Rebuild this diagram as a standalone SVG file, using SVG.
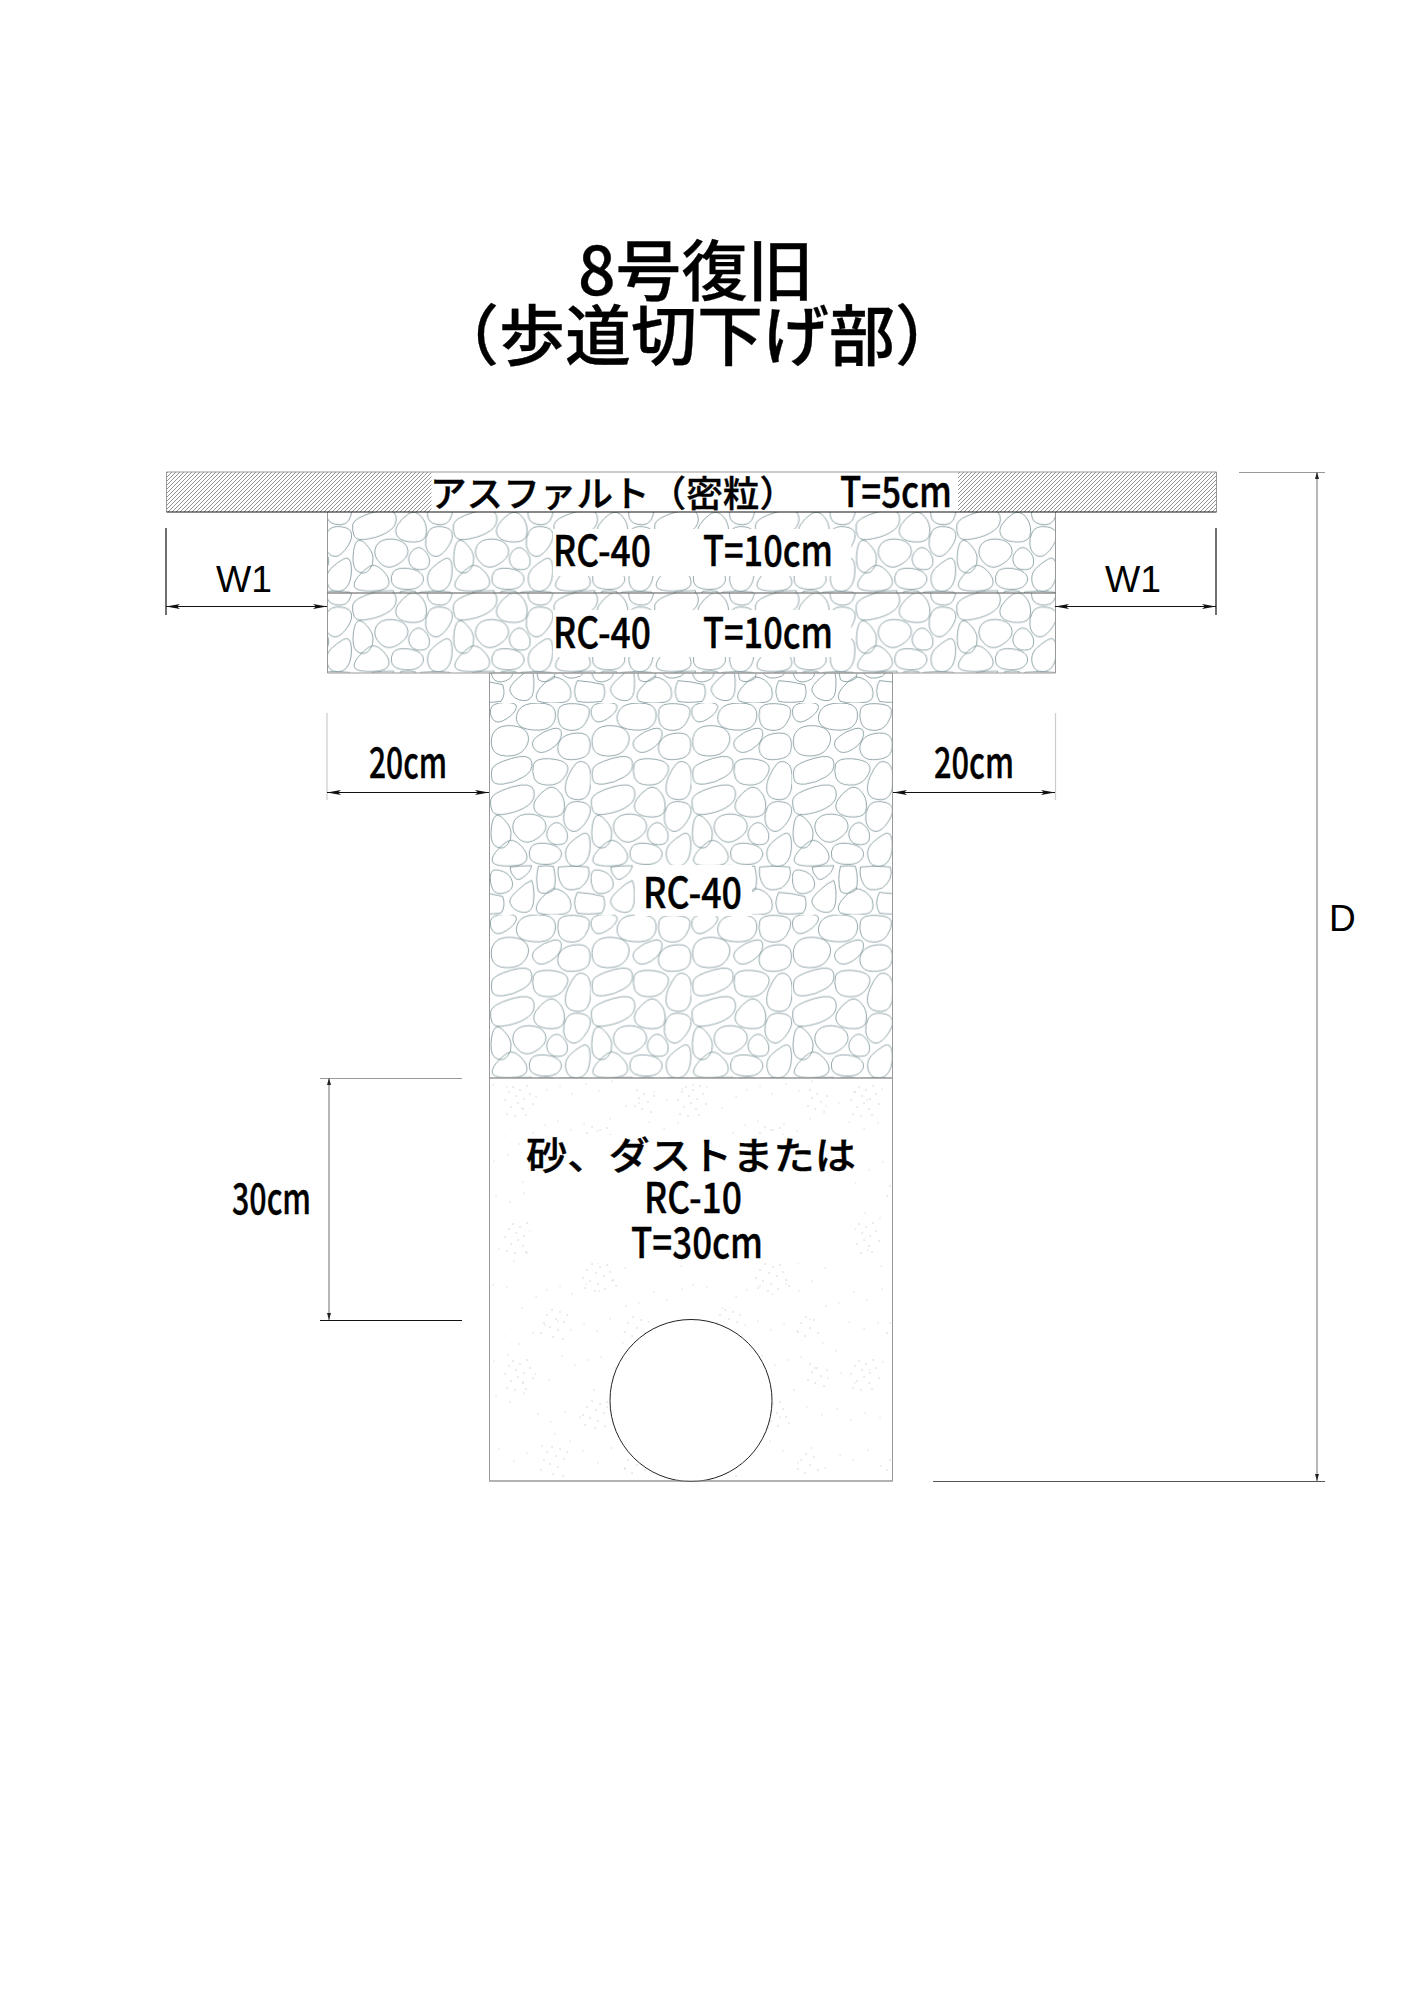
<svg xmlns="http://www.w3.org/2000/svg" width="1414" height="2000" viewBox="0 0 1414 2000">
<style>
.t{font-family:"Noto Sans CJK JP","Liberation Sans",sans-serif;font-weight:500;fill:#000;stroke:#000;stroke-width:.35}
.l{font-family:"Liberation Sans",sans-serif;font-size:37px;fill:#000}
.p{fill:none;stroke:#5c7a80;stroke-width:2}
.e{stroke:#555;stroke-width:1;fill:none}
.g{stroke:#999;stroke-width:1;fill:none}
.k{stroke:#111;stroke-width:1.2;fill:none}
.h{stroke:#111;stroke-width:1.2;fill:none;marker-start:url(#ah);marker-end:url(#ah)}
.v{stroke:#888;stroke-width:1.2;fill:none;marker-start:url(#as);marker-end:url(#as)}
</style>
<defs>
<marker id="ah" markerUnits="userSpaceOnUse" markerWidth="14" markerHeight="6" viewBox="0 0 14 6" refX="14" refY="3" orient="auto-start-reverse"><path d="M14 3L0 .5 3 3 0 5.5Z" fill="#111"/></marker>
<marker id="as" markerUnits="userSpaceOnUse" markerWidth="7" markerHeight="4" viewBox="0 0 7 4" refX="7" refY="2" orient="auto-start-reverse"><path d="M7 2L0 0V4Z" fill="#222"/></marker>
<pattern id="hatch" patternUnits="userSpaceOnUse" width="4" height="4"><path d="M-1 1L1-1M0 4L4 0M3 5L5 3" stroke="#666" stroke-width=".7"/></pattern>
<g id="pebbles">
<path class="p" d="M1.5 20Q4 0 43-1.5Q82-3 79 13.5Q76 30 50 47Q24 64 11.5 52Q-1 40 1.5 20Z"/>
<path class="p" d="M87 20Q100 0 145 0Q190 0 195 25Q200 50 185 67Q170 84 130 81Q90 78 82 59Q74 40 87 20Z"/>
<path class="p" d="M205 20Q210 0 253 2Q296 4 298 22Q300 40 285 62Q270 84 242 82Q215 80 207 60Q200 40 205 20Z"/>
<path class="p" d="M15 83Q30 66 65 68Q100 70 111 90Q122 110 106 135Q90 160 50 159Q10 158 5 129Q0 100 15 83Z"/>
<path class="p" d="M188 77Q216 70 214 95Q212 120 181 139Q150 158 134 139Q118 120 139 102Q160 84 188 77Z"/>
<path class="p" d="M211 111Q225 92 261 90Q298 88 300 119Q302 150 286 160Q270 170 242 170Q215 170 206 150Q198 130 211 111Z"/>
<path class="p" d="M6 198Q10 182 65 166Q120 150 125 177Q130 205 100 222Q70 240 40 243Q10 246 6 230Q2 215 6 198Z"/>
<path class="p" d="M130 185Q135 165 178 167Q220 170 230 185Q240 200 222 224Q205 248 172 246Q140 245 132 225Q125 205 130 185Z"/>
<path class="p" d="M257 182Q270 170 287 180Q305 190 302 240Q300 290 267 290Q235 290 228 270Q222 250 233 222Q245 195 257 182Z"/>
<path class="p" d="M2 290Q5 270 65 252Q125 235 131 262Q138 290 114 307Q90 325 52 332Q15 340 7 325Q0 310 2 290Z"/>
<path class="p" d="M170 257Q190 245 207 265Q225 285 223 313Q222 342 186 342Q150 342 137 326Q125 310 137 290Q150 270 170 257Z"/>
<path class="p" d="M229 311Q240 292 270 296Q300 300 301 320Q302 340 281 366Q260 392 242 383Q225 375 221 352Q218 330 229 311Z"/>
<path class="p" d="M15 340Q25 330 43 350Q62 370 63 390Q65 410 52 425Q40 440 21 432Q2 425 3 388Q5 350 15 340Z"/>
<path class="p" d="M73 353Q85 332 120 333Q155 335 165 357Q175 380 150 400Q125 420 107 417Q90 415 76 395Q62 375 73 353Z"/>
<path class="p" d="M182 367Q200 350 217 367Q235 385 232 405Q230 425 205 425Q180 425 172 405Q165 385 182 367Z"/>
<path class="p" d="M276 393Q298 382 300 416Q302 450 291 470Q280 490 257 490Q235 490 228 465Q222 440 238 422Q255 405 276 393Z"/>
<path class="p" d="M17 447Q35 425 52 415Q70 405 92 427Q115 450 110 469Q105 488 62 489Q20 490 10 480Q0 470 17 447Z"/>
<path class="p" d="M124 431Q135 418 167 421Q200 425 210 440Q220 455 207 470Q195 486 160 484Q125 482 119 463Q114 445 124 431Z"/>
<path class="p" d="M10 502Q20 498 41 506Q62 515 67 537Q72 560 46 569Q20 578 8 559Q-1 540 1 522Q2 505 10 502Z"/>
<path class="p" d="M60 492Q90 488 125 488Q120 510 100 522Q85 535 75 525Q60 510 60 492Z"/>
<path class="p" d="M145 490Q170 486 190 490Q200 530 192 560Q165 580 145 565Q135 530 145 490Z"/>
<path class="p" d="M205 492Q250 486 295 492Q305 530 270 555Q230 570 215 545Q200 520 205 492Z"/>
<path class="p" d="M125 532Q135 560 130 600Q125 630 100 628Q70 625 60 600Q55 585 85 560Q105 540 125 532Z"/>
<path class="p" d="M190 556Q225 560 240 590Q250 625 225 632Q180 640 145 630Q130 615 150 590Q170 565 190 556Z"/>
<path class="p" d="M262 568Q300 570 340 580Q350 610 335 630Q290 636 262 630Q245 600 262 568Z"/>
<path class="p" transform="translate(-302 0)" d="M262 568Q300 570 340 580Q350 610 335 630Q290 636 262 630Q245 600 262 568Z"/>
</g>
<pattern id="pebA" patternUnits="userSpaceOnUse" x="490" y="703" width="100.7" height="211.7" viewBox="0 0 302 635"><use href="#pebbles"/></pattern>
<pattern id="pebB" patternUnits="userSpaceOnUse" x="352" y="428" width="100.7" height="211.7" viewBox="0 0 302 635"><use href="#pebbles"/></pattern>
<pattern id="pebC" patternUnits="userSpaceOnUse" x="352" y="508.5" width="100.7" height="211.7" viewBox="0 0 302 635"><use href="#pebbles"/></pattern>
<pattern id="sand" patternUnits="userSpaceOnUse" x="489" y="1078" width="200" height="200"><path fill="none" stroke="#c4c1b3" stroke-width="1" stroke-linecap="round" d="M4 7h.1M18 9h.1M33 30h.1M47 19h.1M58 12h.1M71 8h.1M83 16h.1M97 6h.1M110 13h.1M123 3h.1M137 28h.1M150 25h.1M165 14h.1M178 22h.1M193 11h.1M15 58h.1M30 66h.1M44 55h.1M56 47h.1M69 43h.1M82 52h.1M95 46h.1M108 53h.1M121 41h.1M134 65h.1M147 73h.1M160 44h.1M175 51h.1M189 45h.1M5 83h.1M19 77h.1M34 104h.1M46 96h.1M60 102h.1M73 78h.1M86 87h.1M99 82h.1M112 79h.1M126 90h.1M139 100h.1M152 95h.1M166 105h.1M180 92h.1M194 84h.1M7 118h.1M21 124h.1M35 115h.1M49 136h.1M62 144h.1M76 134h.1M91 139h.1M105 112h.1M118 129h.1M133 137h.1M148 131h.1M162 142h.1M176 135h.1M191 140h.1M10 171h.1M25 183h.1M38 175h.1M53 168h.1M66 156h.1M81 163h.1M94 173h.1M109 185h.1M122 170h.1M136 190h.1M151 177h.1M164 182h.1M179 172h.1M192 188h.1"/></pattern>
<pattern id="sand2" patternUnits="userSpaceOnUse" x="489" y="1078" width="173" height="137"><path fill="none" stroke="#a9a798" stroke-width="1" stroke-linecap="round" d="M20 14h.1M24 9h.1M27 18h.1M31 12h.1M35 21h.1M16 22h.1M38 8h.1M29 25h.1M22 29h.1M41 16h.1M34 31h.1M44 26h.1M18 36h.1M26 38h.1M37 37h.1M98 55h.1M103 49h.1M107 58h.1M111 52h.1M115 61h.1M94 63h.1M101 66h.1M109 69h.1M118 50h.1M121 57h.1M124 65h.1M96 73h.1M106 76h.1M116 74h.1M127 71h.1M150 20h.1M155 16h.1M159 24h.1M146 28h.1M153 31h.1M162 34h.1M148 12h.1M165 18h.1M58 100h.1M63 95h.1M67 104h.1M71 97h.1M55 108h.1M61 112h.1M69 115h.1M75 107h.1M78 100h.1M52 118h.1M64 122h.1M74 124h.1M139 108h.1M144 102h.1M148 113h.1M152 105h.1M136 117h.1M143 121h.1M156 118h.1"/></pattern>
</defs>
<rect width="1414" height="2000" fill="#fff"/>

<g id="title">
<text class="t" font-size="66" x="578" y="295">8号復旧</text>
<text class="t" font-size="66" x="433" y="360">（歩道切下げ部）</text>
</g>

<g id="sand-layer">
<rect x="489.500" y="1078" width="403" height="403" fill="url(#sand)"/>
<rect x="489.500" y="1078" width="403" height="403" fill="url(#sand2)"/>
<rect x="489.500" y="1078" width="403" height="403" class="g"/>
<rect x="530" y="1135" width="325" height="128" fill="#fff"/>
<circle cx="691" cy="1400.500" r="81" fill="#fff" stroke="#222" stroke-width="1"/>
<path d="M489.500 1481H892.500" class="g"/>
<text class="t" font-size="38" x="526" y="1169" textLength="330" lengthAdjust="spacingAndGlyphs">砂、ダストまたは</text>
<text class="t" font-size="42" x="644" y="1213" textLength="98" lengthAdjust="spacingAndGlyphs">RC-10</text>
<text class="t" font-size="42" x="631" y="1258" textLength="132" lengthAdjust="spacingAndGlyphs">T=30cm</text>
</g>

<g id="rc40-column">
<rect x="489.500" y="673" width="403" height="405" fill="url(#pebA)"/>
<rect x="489.500" y="673" width="403" height="405" class="g"/>
<rect x="635" y="865" width="117" height="51" fill="#fff"/>
<text class="t" font-size="42" x="643" y="908" textLength="99" lengthAdjust="spacingAndGlyphs">RC-40</text>
</g>

<g id="rc40-lower">
<rect x="327.500" y="593" width="728" height="80" fill="url(#pebC)"/>
<path d="M327.500 593V673H1055.500V593" class="g"/>
<rect x="553" y="610" width="298" height="47" fill="#fff"/>
<text class="t" font-size="42" x="553" y="648" textLength="98" lengthAdjust="spacingAndGlyphs">RC-40</text>
<text class="t" font-size="42" x="703" y="648" textLength="130" lengthAdjust="spacingAndGlyphs">T=10cm</text>
</g>

<g id="rc40-upper">
<rect x="327.500" y="512" width="728" height="81" fill="url(#pebB)"/>
<path d="M327.500 512V593M1055.500 512V593" class="g"/>
<path d="M327.500 593H1055.500" class="e" style="stroke-width:1.2"/>
<rect x="553" y="529" width="298" height="47" fill="#fff"/>
<text class="t" font-size="42" x="553" y="566" textLength="98" lengthAdjust="spacingAndGlyphs">RC-40</text>
<text class="t" font-size="42" x="703" y="566" textLength="130" lengthAdjust="spacingAndGlyphs">T=10cm</text>
</g>

<g id="asphalt">
<rect x="166.500" y="472" width="265" height="40" fill="url(#hatch)"/>
<rect x="958" y="472" width="258" height="40" fill="url(#hatch)"/>
<path d="M166.500 472H1216.500V512" class="g"/>
<path d="M166.500 472V512" class="g"/>
<path d="M166.500 512H1216.500" class="k"/>
<text class="t" font-size="36" x="430" y="507" textLength="366" lengthAdjust="spacingAndGlyphs">アスファルト（密粒）</text>
<text class="t" font-size="42" x="840" y="507" textLength="112" lengthAdjust="spacingAndGlyphs">T=5cm</text>
</g>

<g id="connectors">
<path class="k" d="M166 528V615M1216 528V615"/>
<path class="h" d="M166 606.500H327"/>
<path class="h" d="M1055 606.500H1216"/>
<path d="M327 713V800M1055.500 713V800" stroke="#ccc" stroke-width="1.200" fill="none"/>
<path class="h" d="M327 792.500H489"/>
<path class="h" d="M893 792.500H1055"/>
<path class="g" d="M1239 472.500H1325"/>
<path class="e" d="M933 1481.500H1325"/>
<path class="v" d="M1317 472V1481"/>
<path class="g" d="M320 1078.500H462"/>
<path class="k" d="M320 1320.500H462"/>
<path class="v" d="M329 1078V1320"/>
</g>

<g id="dim-labels">
<text class="l" x="216" y="592" textLength="56" lengthAdjust="spacingAndGlyphs">W1</text>
<text class="l" x="1105" y="592" textLength="56" lengthAdjust="spacingAndGlyphs">W1</text>
<text class="t" font-size="42" x="369" y="778" textLength="78" lengthAdjust="spacingAndGlyphs">20cm</text>
<text class="t" font-size="42" x="934" y="778" textLength="80" lengthAdjust="spacingAndGlyphs">20cm</text>
<text class="t" font-size="42" x="232" y="1214" textLength="79" lengthAdjust="spacingAndGlyphs">30cm</text>
<text class="l" x="1329" y="931">D</text>
</g>
</svg>
